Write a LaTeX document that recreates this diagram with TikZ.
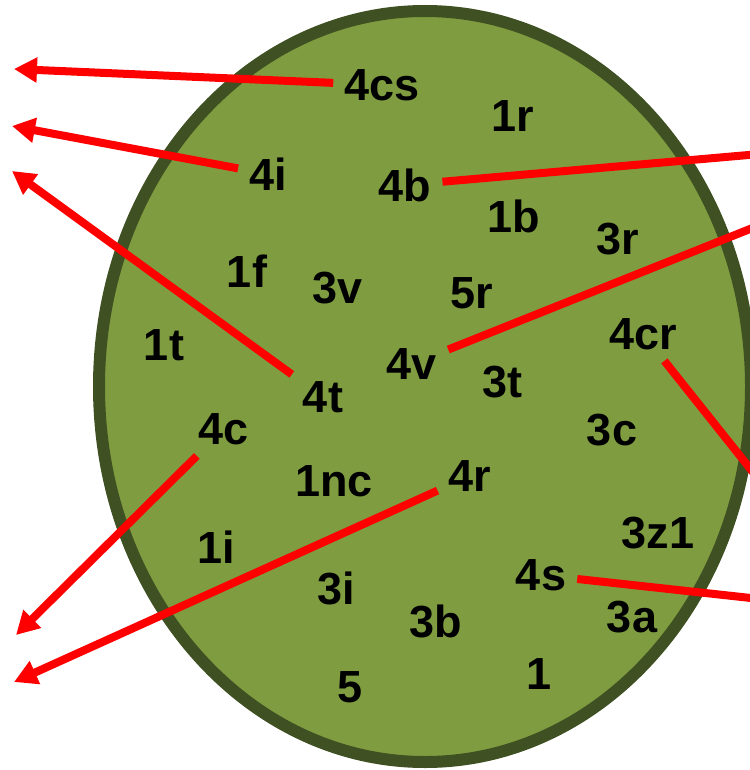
\documentclass[tikz,border=0pt]{standalone}
\usepackage{fontspec}
\setmainfont{Liberation Sans}
\usetikzlibrary{arrows.meta}

\definecolor{leaf}{RGB}{127,157,64}
\definecolor{leafrim}{RGB}{63,80,34}

\begin{document}
\begin{tikzpicture}[
  x=1pt,
  y=-1pt,
  cell/.style={
    draw=leafrim,
    fill=leaf,
    line width=12pt
  },
  lbl/.style={
    draw=none,
    fill=none,
    inner sep=11pt,
    font=\fontsize{45}{54}\selectfont\bfseries
  },
  link/.style={
    draw=red,
    line width=8pt
  },
  >={Triangle[length=23pt,width=24pt]}
]

\useasboundingbox (0,0) rectangle (749,770);

% Cell
\draw[cell] (425,386.5) ellipse [x radius=326, y radius=375.5];

% Labels
\foreach \lab/\x/\y in {
  4cs/382/85, 1r/513/116, 4i/268/174, 4b/405/185,
  1b/514/216, 3r/618/239, 1f/247/271, 3v/338/288,
  5r/472/293, 4cr/643/334, 1t/164/345, 4v/412/364,
  3t/502/382, 4t/323/397, 4c/224/429, 3c/612/430,
  1nc/334/481, 4r/470/476, 1i/216/547, 3z1/658/533,
  4s/541/575, 3i/336/588, 3b/436/621, 3a/632/617,
  5/350/687, 1/539/674} {
  \node[lbl] (n\lab) at (\x,\y) {\lab};
}

% Free ends
\coordinate (tip4cs) at (14,69);
\coordinate (tip4i) at (12,126);
\coordinate (tip4t) at (12,171);
\coordinate (tip4c) at (16,635);
\coordinate (tip4r) at (14,682);
\coordinate (rim4b) at (760,154);
\coordinate (rim4v) at (760,225);
\coordinate (rim4cr) at (760,481);
\coordinate (rim4s) at (760,599);

% Arrows 1
\foreach \lab in {4cs,4i,4t,4c,4r} {
  \draw[link,->] (n\lab) -- (tip\lab);
}

% Arrows 2
\foreach \lab in {4b,4v,4cr,4s} {
  \draw[link] (n\lab) -- (rim\lab);
}

\end{tikzpicture}
\end{document}
